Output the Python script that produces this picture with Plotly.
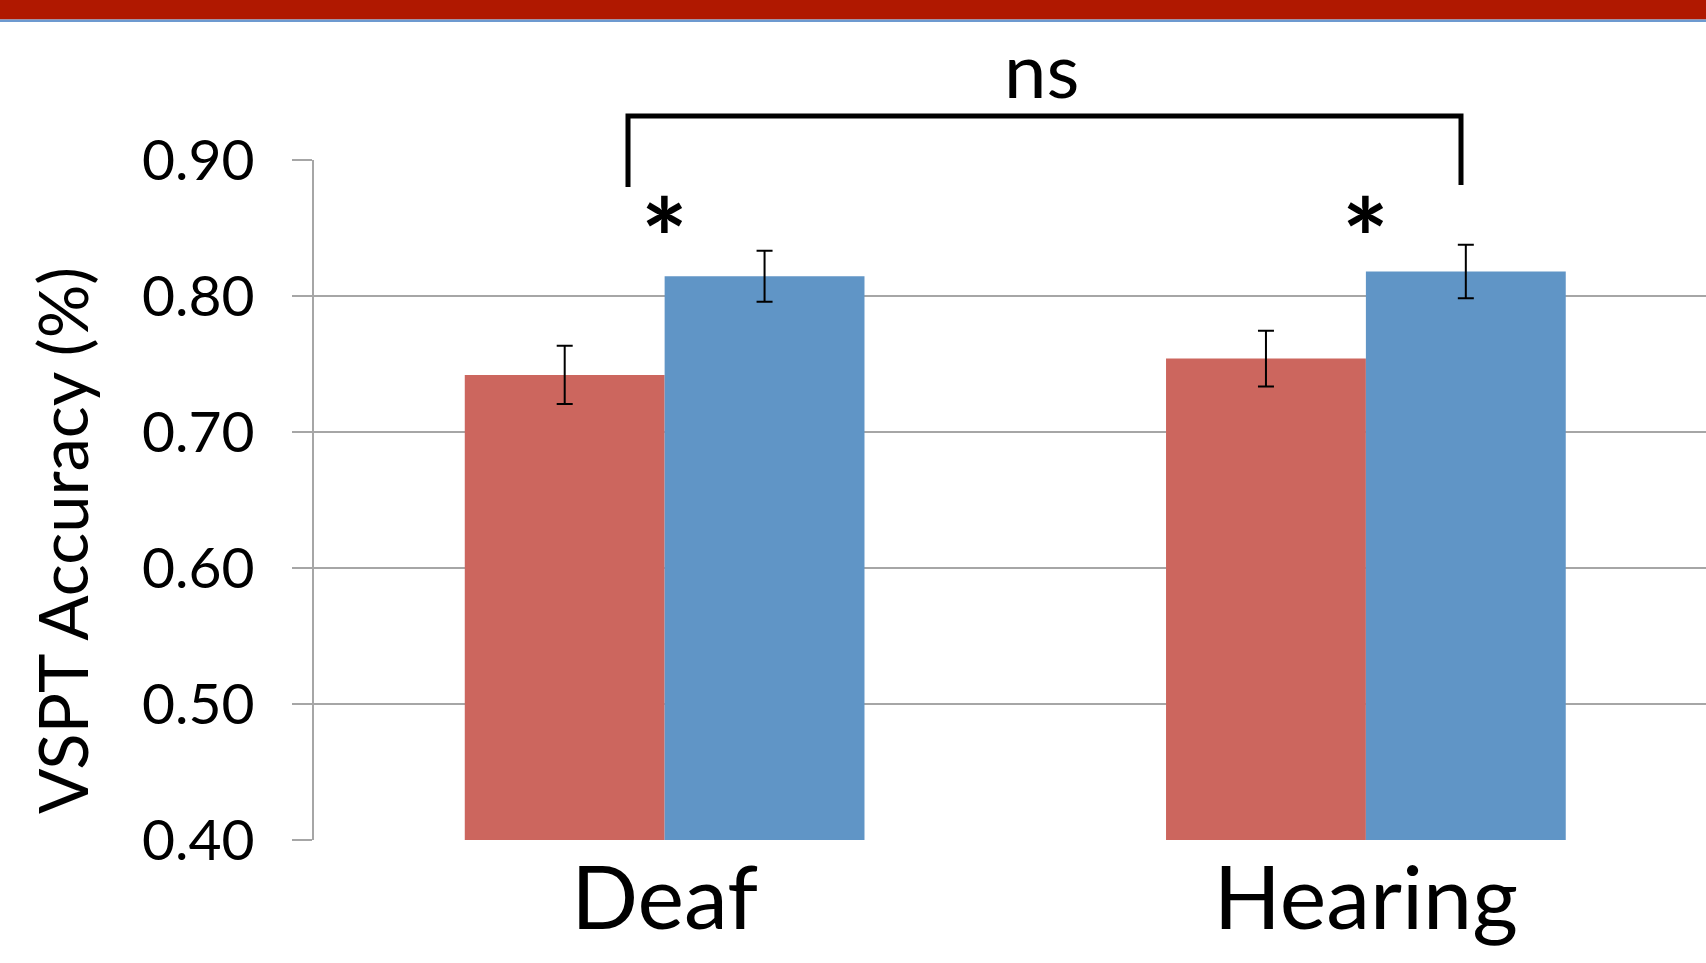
import plotly.graph_objects as go

# ---- data ----
groups = ["Deaf", "Hearing"]
series_names = ["Condition A", "Condition B"]
red_values = [0.742, 0.754]
red_errors = [0.0215, 0.0205]
blue_values = [0.8145, 0.818]
blue_errors = [0.0188, 0.0196]
y_ticks = [0.40, 0.50, 0.60, 0.70, 0.80, 0.90]
y_ticktext = ["0.40", "0.50", "0.60", "0.70", "0.80", "0.90"]
y_title = "VSPT Accuracy (%)"
sig_marks = ["*", "*"]
bracket_label = "ns"

# ---- layout constants (pixels) ----
W, H = 1706, 963
L, R, T, B = 314, 0, 160, 123
plot_h = H - T - B
plot_w = W - L - R
y_min, y_max = 0.40, 0.90

def py(pix_y):
    """pixel y (from top) -> paper y"""
    return (H - B - pix_y) / plot_h

def px(pix_x):
    return (pix_x - L) / plot_w

RED = "#CC665E"
BLUE = "#6095C6"
GRID = "#A6A6A6"
FONT = "Lato"

fig = go.Figure()
err_style = dict(type="data", thickness=2, width=8, color="black", visible=True)
fig.add_trace(go.Bar(x=groups, y=red_values, name=series_names[0], marker_color=RED,
                     marker_line_width=0, error_y=dict(array=red_errors, **err_style)))
fig.add_trace(go.Bar(x=groups, y=blue_values, name=series_names[1], marker_color=BLUE,
                     marker_line_width=0, error_y=dict(array=blue_errors, **err_style)))

fig.update_layout(
    width=W, height=H,
    margin=dict(l=L, r=R, t=T, b=B, pad=0),
    paper_bgcolor="white", plot_bgcolor="white",
    barmode="group", bargap=0.43, bargroupgap=0,
    showlegend=False,
    font=dict(family=FONT, color="black"),
)
fig.update_xaxes(range=[-0.5, 1.485], showgrid=False, showline=False, ticks="",
                 tickfont=dict(size=88, family=FONT, color="black"), ticklabelstandoff=0)
fig.update_yaxes(range=[y_min, y_max], tickvals=y_ticks, ticktext=y_ticktext,
                 showgrid=True, gridcolor=GRID, gridwidth=2,
                 showline=True, linecolor=GRID, linewidth=2,
                 ticks="outside", ticklen=20, tickcolor=GRID, tickwidth=2,
                 ticklabelstandoff=26,
                 tickfont=dict(size=57, family=FONT, color="black"), zeroline=False)

# y title
fig.add_annotation(text=y_title, textangle=-90, xref="paper", yref="paper",
                   x=px(62), y=py(541), xanchor="center", yanchor="middle",
                   showarrow=False, font=dict(size=67, family=FONT, color="black"))

# bracket
bx0, bx1 = px(628), px(1461)
fig.add_shape(type="path", xref="paper", yref="paper",
              path=f"M {bx0},{py(187)} L {bx0},{py(116)} L {bx1},{py(116)} L {bx1},{py(185)}",
              line=dict(color="black", width=5))
fig.add_annotation(text=bracket_label, xref="paper", yref="paper", x=px(1041), y=py(68),
                   xanchor="center", yanchor="middle",
                   showarrow=False, font=dict(size=76, family=FONT, color="black"))

# significance asterisks
for g, m in zip(groups, sig_marks):
    fig.add_annotation(text=f"<b>{m}</b>", x=g, xref="x", yref="paper", y=py(236),
                       xanchor="center", yanchor="middle",
                       showarrow=False, font=dict(size=110, family=FONT, color="black"))

# header band
fig.add_shape(type="rect", xref="paper", yref="paper", x0=px(0), x1=px(W),
              y0=py(19.5), y1=py(0), fillcolor="#B01800", line_width=0, layer="above")
fig.add_shape(type="rect", xref="paper", yref="paper", x0=px(0), x1=px(W),
              y0=py(22), y1=py(19.5), fillcolor="#6D9AD0", line_width=0, layer="above")

fig.write_html("out.html", config={"displayModeBar": False},
               post_script="document.body.style.margin='0';")
